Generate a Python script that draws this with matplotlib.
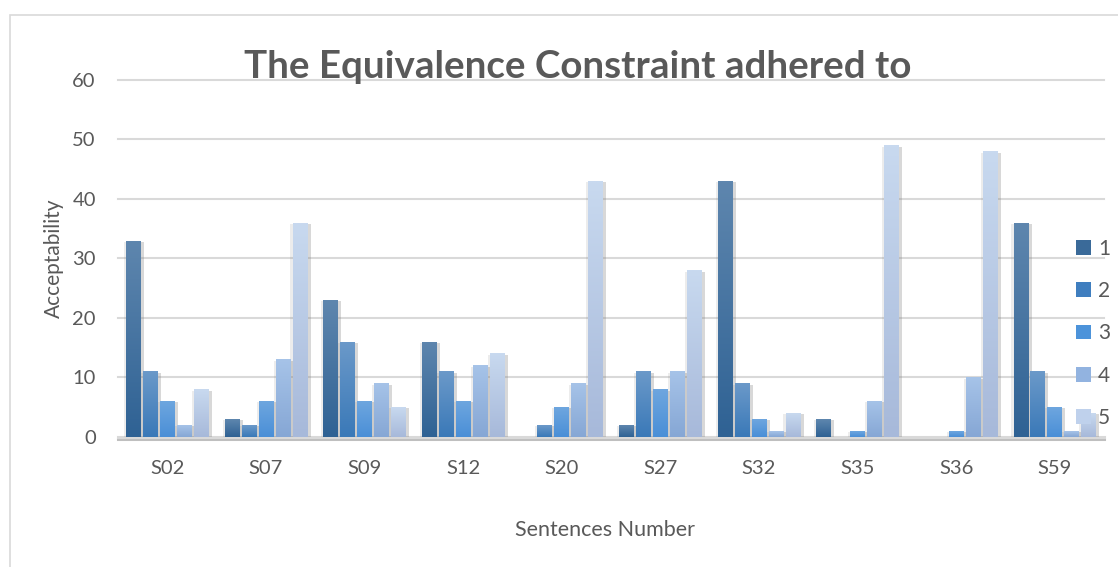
import numpy as np
import matplotlib
matplotlib.use("Agg")
import matplotlib.pyplot as plt
import matplotlib.patheffects as pe
from matplotlib.colors import to_rgb
from matplotlib.patches import Patch

# ---- data ----
sentences = ["S02", "S07", "S09", "S12", "S20", "S27", "S32", "S35", "S36", "S59"]
series_names = ["1", "2", "3", "4", "5"]
rating_1 = [33, 3, 23, 16, 0, 2, 43, 3, 0, 36]
rating_2 = [11, 2, 16, 11, 2, 11, 9, 0, 0, 11]
rating_3 = [6, 6, 6, 6, 5, 8, 3, 1, 1, 5]
rating_4 = [2, 13, 9, 12, 9, 11, 1, 6, 10, 1]
rating_5 = [8, 36, 5, 14, 43, 28, 4, 49, 48, 4]
y_ticks = [0, 10, 20, 30, 40, 50, 60]

series = [rating_1, rating_2, rating_3, rating_4, rating_5]

# gradient colours per series (top, bottom) and flat legend colours
grad_top = ["#5E86AE", "#6B99C9", "#6EA6DF", "#A6C3E8", "#C8D9EF"]
grad_bot = ["#2F6294", "#3A79B8", "#4A8FD7", "#86A7D5", "#A7B9DA"]
legend_cols = ["#3A6A99", "#3F7EBF", "#4C93DA", "#92B3E0", "#BFD1EC"]

FONT = "Lato"
TXT = "#595959"

fig = plt.figure(figsize=(11.18, 5.67), dpi=100)
fig.patch.set_facecolor("white")

# outer chart frame
frame = plt.Rectangle((10 / 1118, -0.1), 1.2, 1 - 15 / 567 + 0.1,
                      transform=fig.transFigure, fill=False,
                      edgecolor="#D9D9D9", lw=1.2)
fig.add_artist(frame)

ax = fig.add_axes([118 / 1118, 130.3 / 567, 986 / 1118, 356.7 / 567])
ax.set_facecolor("none")

x = np.arange(len(sentences))
step = 0.172
width = 0.147

for i, vals in enumerate(series):
    offs = (i - 2) * step
    bars = ax.bar(x + offs, vals, width, color=legend_cols[i], zorder=3,
                  linewidth=0)
    top = np.array(to_rgb(grad_top[i]))
    bot = np.array(to_rgb(grad_bot[i]))
    t = np.linspace(0, 1, 64)[:, None]
    grad = (top[None, :] * (1 - t) + bot[None, :] * t)[:, None, :]
    for rect, v in zip(bars, vals):
        if v <= 0:
            rect.set_visible(False)
            continue
        rect.set_path_effects([
            pe.SimplePatchShadow(offset=(2.5, -1), shadow_rgbFace="#808080",
                                 alpha=0.3),
            pe.SimplePatchShadow(offset=(-1.5, -1), shadow_rgbFace="#808080",
                                 alpha=0.15),
            pe.Normal()])
        x0 = rect.get_x()
        im = ax.imshow(grad, extent=[x0, x0 + rect.get_width(), 0, v],
                       aspect="auto", zorder=4, interpolation="bilinear")
        im.set_clip_path(rect)

ax.set_xlim(-0.5, len(sentences) - 0.5)
ax.set_ylim(0, 60)

# grid and baseline
for yt in y_ticks[1:]:
    ax.axhline(yt, color="#D9D9D9", lw=1.5, zorder=1, clip_on=False)
ax.axhline(0, color="#D9D9D9", lw=2.2, zorder=2, clip_on=False,
           path_effects=[pe.SimpleLineShadow(offset=(0, -1.5), alpha=0.25),
                         pe.Normal()])

for s in ax.spines.values():
    s.set_visible(False)

ax.set_yticks(y_ticks)
ax.set_yticklabels([str(v) for v in y_ticks], fontsize=14.5, color=TXT,
                   family=FONT)
ax.set_xticks(x)
ax.set_xticklabels(sentences, fontsize=14.5, color=TXT, family=FONT)
ax.tick_params(axis="y", length=0, pad=16)
ax.tick_params(axis="x", length=0, pad=17)

ax.set_ylabel("Acceptability", fontsize=15, color=TXT, family=FONT)
ax.yaxis.set_label_coords(-54 / 986, 0.5)
fig.text(605 / 1118, 1 - 530 / 567, "Sentences Number", fontsize=15.5,
         color=TXT, family=FONT, ha="center", va="center")

fig.text(578 / 1118, 1 - 67 / 567, "The Equivalence Constraint adhered to",
         fontsize=27.7, fontweight="bold", color=TXT, family=FONT,
         ha="center", va="center")

handles = [Patch(facecolor=c, edgecolor="none") for c in legend_cols]
leg = ax.legend(handles, series_names, loc="center left",
                bbox_to_anchor=(0.961, 0.29), frameon=False,
                prop={"family": FONT, "size": 15},
                handlelength=0.72, handleheight=0.72, handletextpad=0.35,
                labelspacing=1.07, borderpad=0)
for txt in leg.get_texts():
    txt.set_color(TXT)
leg.set_zorder(10)

fig.savefig("out.png", dpi=100, facecolor="white")
